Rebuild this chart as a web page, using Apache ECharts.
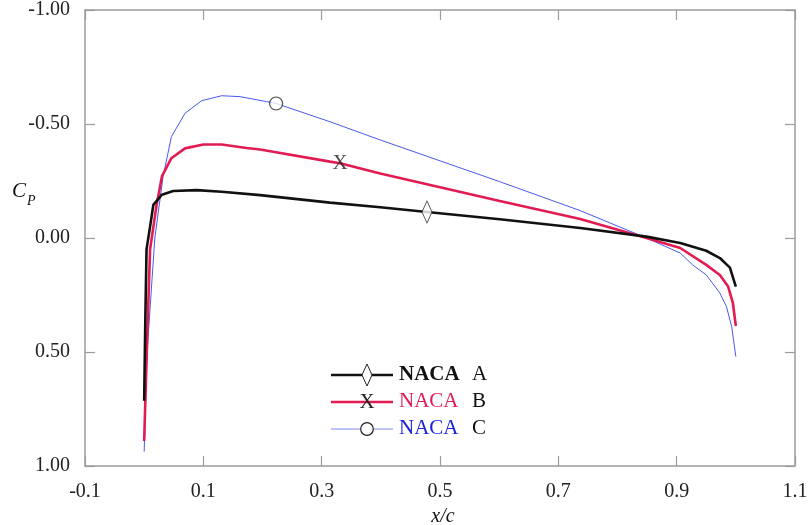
<!DOCTYPE html>
<html>
<head>
<meta charset="utf-8">
<script src="https://cdn.jsdelivr.net/npm/echarts@6/dist/echarts.min.js"></script>
<style>
  html, body { margin: 0; padding: 0; background: #fff; }
  #chart { width: 812px; height: 525px; }
</style>
</head>
<body>
<div id="chart"></div>
<script>
// Pressure coefficient distributions along the chord (x/c, Cp)
const xA = [0, 0.002, 0.004, 0.01, 0.0155, 0.03, 0.049, 0.089, 0.131, 0.196, 0.314, 0.399, 0.478, 0.601, 0.737, 0.849, 0.906, 0.95, 0.973, 0.99, 1.0];
const cpA = [0.714, 0.35, 0.05, -0.05, -0.145, -0.19, -0.206, -0.21, -0.203, -0.188, -0.155, -0.135, -0.114, -0.082, -0.044, -0.006, 0.022, 0.056, 0.088, 0.13, 0.213];

const xB = [0, 0.005, 0.01, 0.021, 0.03, 0.046, 0.069, 0.1, 0.131, 0.173, 0.196, 0.314, 0.331, 0.399, 0.601, 0.737, 0.849, 0.906, 0.95, 0.973, 0.987, 0.995, 1.0];
const cpB = [0.89, 0.45, 0.05, -0.145, -0.27, -0.35, -0.393, -0.41, -0.41, -0.395, -0.388, -0.335, -0.328, -0.283, -0.162, -0.083, 0, 0.044, 0.118, 0.162, 0.213, 0.285, 0.386];

const xC = [0, 0.005, 0.018, 0.032, 0.046, 0.069, 0.097, 0.131, 0.162, 0.207, 0.223, 0.314, 0.399, 0.601, 0.737, 0.849, 0.906, 0.927, 0.95, 0.973, 0.984, 0.993, 1.0];
const cpC = [0.937, 0.5, 0.0, -0.27, -0.444, -0.547, -0.602, -0.624, -0.62, -0.598, -0.59, -0.51, -0.43, -0.247, -0.12, 0, 0.066, 0.118, 0.162, 0.241, 0.30, 0.389, 0.52];

// single identifying marker on each curve
const markA = [0.478, -0.114];
const markB = [0.331, -0.328];
const markC = [0.223, -0.59];

const names = ['A', 'B', 'C'];
const colors = ['#111111', '#e21c52', '#4a58ee'];

const zip = (xs, ys) => xs.map((x, i) => [x, ys[i]]);

const serif = '"Liberation Serif", "DejaVu Serif", serif';
const axisGray = '#9c9c9c';

const chart = echarts.init(document.getElementById('chart'));

function baseX(pos, labels) {
  return {
    type: 'value', position: pos, min: -0.1, max: 1.1, interval: 0.2,
    axisLine: { show: true, onZero: false, lineStyle: { color: axisGray, width: 1.5 } },
    axisTick: { show: true, inside: true, length: 10, lineStyle: { color: axisGray, width: 1.2 } },
    axisLabel: { show: labels, margin: 16, color: '#222', fontFamily: serif, fontSize: 20,
      formatter: v => v.toFixed(1) },
    splitLine: { show: false }
  };
}
function baseY(pos, labels) {
  return {
    type: 'value', position: pos, inverse: true, min: -1, max: 1, interval: 0.5,
    axisLine: { show: true, onZero: false, lineStyle: { color: axisGray, width: 1.5 } },
    axisTick: { show: true, inside: true, length: 10, lineStyle: { color: axisGray, width: 1.2 } },
    axisLabel: { show: labels, margin: 15, color: '#222', fontFamily: serif, fontSize: 20,
      formatter: v => v.toFixed(2) },
    splitLine: { show: false }
  };
}

const legendY = [375, 402, 429];
const legendGraphics = [];
legendY.forEach((y, i) => {
  legendGraphics.push({
    type: 'line', shape: { x1: 331, y1: y, x2: 393, y2: y },
    style: { stroke: i === 2 ? '#a9b1f5' : colors[i], lineWidth: i === 2 ? 1.5 : 2.5 }
  });
  legendGraphics.push({
    type: 'text', left: 399, top: y - 11,
    style: { text: 'NACA', fill: i === 0 ? '#111' : (i === 1 ? '#e21c52' : '#1a22dd'),
      font: (i === 0 ? 'bold ' : '') + '21px ' + serif }
  });
  legendGraphics.push({
    type: 'text', left: 472, top: y - 11,
    style: { text: names[i], fill: '#111', font: '21px ' + serif }
  });
});
// legend symbols
legendGraphics.push({ type: 'polygon', shape: { points: [[367, 364], [372, 375], [367, 386], [362, 375]] },
  style: { fill: '#fff', stroke: '#222', lineWidth: 1 } });
legendGraphics.push({ type: 'text', x: 367, y: 402, style: { text: 'X', fill: '#222', font: '21px ' + serif, align: 'center', verticalAlign: 'middle' } });
legendGraphics.push({ type: 'circle', shape: { cx: 367, cy: 429, r: 6.3 },
  style: { fill: '#fff', stroke: '#222', lineWidth: 1.2 } });

// axis titles
legendGraphics.push({ type: 'text', left: 12, top: 181, style: { text: 'C', fill: '#111', font: 'italic 21px ' + serif } });
legendGraphics.push({ type: 'text', left: 27, top: 194, style: { text: 'P', fill: '#111', font: 'italic 14px ' + serif } });
legendGraphics.push({ type: 'text', x: 443, y: 517, style: { text: 'x/c', fill: '#111', font: 'italic 20px ' + serif, align: 'center', verticalAlign: 'middle' } });

chart.setOption({
  animation: false,
  backgroundColor: '#fff',
  grid: { left: 85, right: 17, top: 10, bottom: 59, containLabel: false },
  xAxis: [baseX('bottom', true), baseX('top', false)],
  yAxis: [baseY('left', true), baseY('right', false)],
  series: [
    { name: 'NACA A', type: 'line', data: zip(xA, cpA), showSymbol: false, z: 3,
      lineStyle: { color: colors[0], width: 2.6 } },
    { name: 'NACA B', type: 'line', data: zip(xB, cpB), showSymbol: false, z: 2,
      lineStyle: { color: colors[1], width: 2.6 } },
    { name: 'NACA C', type: 'line', data: zip(xC, cpC), showSymbol: false, z: 1,
      lineStyle: { color: colors[2], width: 1 } },
    { type: 'scatter', data: [markA], symbol: 'diamond', symbolSize: [10, 22], z: 5,
      itemStyle: { color: '#fff', borderColor: '#222', borderWidth: 1 } },
    { type: 'scatter', data: [markB], symbolSize: 1, z: 5, itemStyle: { color: 'rgba(0,0,0,0)' },
      label: { show: true, position: 'inside', formatter: 'X', color: '#222', fontFamily: serif, fontSize: 21 } },
    { type: 'scatter', data: [markC], symbol: 'circle', symbolSize: 13, z: 5,
      itemStyle: { color: '#fff', borderColor: '#222', borderWidth: 1.2 } }
  ],
  graphic: legendGraphics
});
</script>
</body>
</html>
